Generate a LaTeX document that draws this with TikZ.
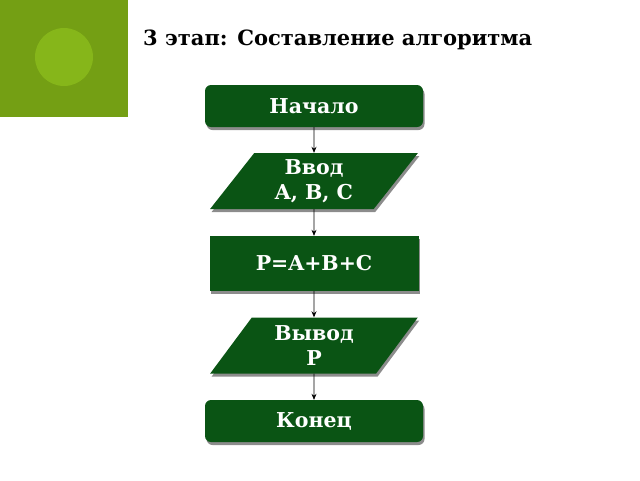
\documentclass[tikz,border=0pt]{standalone}
\usepackage{fontspec}
\setmainfont{DejaVu Serif}
\usetikzlibrary{shapes.geometric,shadows,arrows.meta}
\definecolor{olive}{RGB}{116,159,20}
\definecolor{lightolive}{RGB}{134,182,26}
\definecolor{dgreen}{RGB}{10,84,20}
\definecolor{shadowgray}{RGB}{140,140,140}
\tikzset{
  blockshadow/.style={drop shadow={shadow xshift=1.5pt, shadow yshift=-3pt, fill=shadowgray, opacity=1}},
  term/.style={draw=none, fill=dgreen, rounded corners=6pt, minimum width=218pt, minimum height=42pt, inner sep=0pt, text=white, font=\bfseries\fontsize{20.5}{24}\selectfont, blockshadow},
  procbox/.style={draw=none, fill=dgreen, minimum width=209pt, minimum height=55pt, inner sep=0pt, text=white, font=\bfseries\fontsize{20.5}{24}\selectfont, blockshadow},
  iobox/.style={draw=none, fill=dgreen, trapezium, trapezium left angle=56, trapezium right angle=124, trapezium stretches=true, minimum width=208pt, minimum height=56pt, inner sep=0pt, text=white, align=center, font=\bfseries\fontsize{20.5}{24.5}\selectfont, blockshadow},
  flow/.style={draw=black, line width=0.7pt, -{Stealth[length=6pt,width=5pt]}}
}
\begin{document}
\begin{tikzpicture}[x=1pt,y=-1pt]
\useasboundingbox (0,0) rectangle (640,480);
\fill[olive] (0,0) rectangle (128,117);
\fill[lightolive] (64,57) circle (29);
\node[anchor=west, font=\bfseries\fontsize{21}{24}\selectfont, inner sep=0pt] (title) at (143,40) {3 этап: Составление алгоритма};
\node[term] (start) at (314,106) {Начало};
\node[iobox] (input) at (314,181) {Ввод\\ A, B, C};
\node[procbox] (calc) at (314,263.5) {P=A+B+C};
\node[iobox] (output) at (314,345.5) {Вывод\\ P};
\node[term] (stop) at (314,421) {Конец};
\draw[flow] (start.south) -- (input.north);
\draw[flow] (input.south) -- (calc.north);
\draw[flow] (calc.south) -- (output.north);
\draw[flow] (output.south) -- (stop.north);
\end{tikzpicture}
\end{document}
